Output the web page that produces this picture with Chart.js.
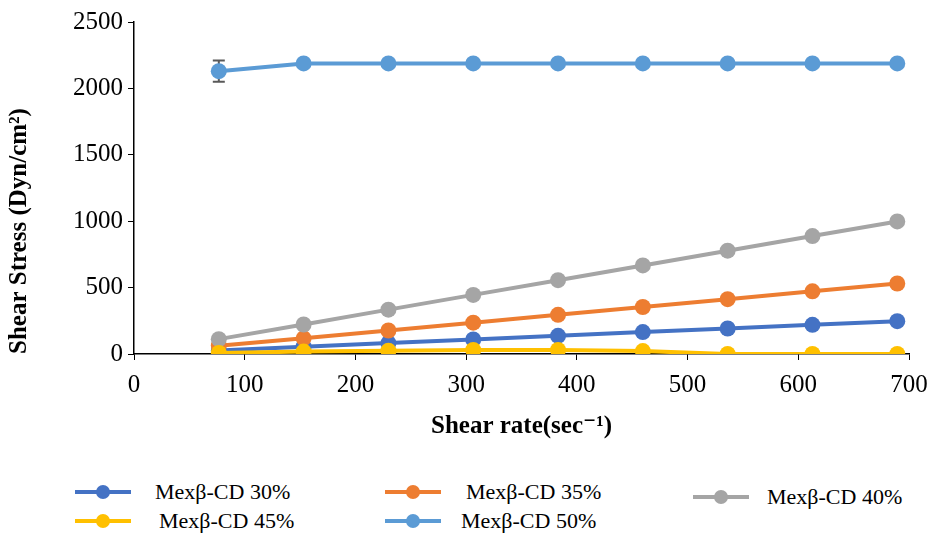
<!DOCTYPE html>
<html>
<head>
<meta charset="utf-8">
<script src="https://cdn.jsdelivr.net/npm/chart.js@4.4.1/dist/chart.umd.min.js"></script>
<style>
    html, body { margin: 0; padding: 0; background: #fff; }
    body { width: 933px; height: 537px; position: relative; overflow: hidden; font-family: 'Liberation Serif', 'DejaVu Serif', serif; }
    #chart { position: absolute; left: 0; top: 0; }
    .legend-item { position: absolute; display: flex; align-items: center; font-size: 22px; color: #000; white-space: nowrap; }
    .legend-swatch { position: relative; width: 56px; height: 14px; }
    .legend-swatch .bar { position: absolute; left: 0; right: 0; top: 5px; height: 4px; }
    .legend-swatch .dot { position: absolute; left: 21px; top: 0; width: 14px; height: 14px; border-radius: 50%; }
</style>
</head>
<body>
<canvas id="chart" width="933" height="446"></canvas>
<div id="legend"></div>
<script>
const shearRate = [76.6, 153.2, 229.8, 306.4, 383, 459.6, 536.2, 612.8, 689.4];
const seriesNames = ['Mexβ-CD 30%', 'Mexβ-CD 35%', 'Mexβ-CD 40%', 'Mexβ-CD 45%', 'Mexβ-CD 50%'];
const stress30 = [27, 55, 82, 110, 137, 165, 192, 220, 247];
const stress35 = [62, 118, 177, 236, 295, 354, 413, 472, 531];
const stress40 = [112, 222, 334, 445, 556, 667, 778, 888, 998];
const stress45 = [8, 18, 25, 30, 30, 22, 0, 0, 0];
const stress50 = [2130, 2188, 2188, 2188, 2188, 2188, 2188, 2188, 2188];
const error50 = [80, 0, 0, 0, 0, 0, 0, 0, 0];
const xTicks = [0, 100, 200, 300, 400, 500, 600, 700];
const yTicks = [0, 500, 1000, 1500, 2000, 2500];

const colors = ['#4472C4', '#ED7D31', '#A5A5A5', '#FFC000', '#5B9BD5'];
const allStress = [stress30, stress35, stress40, stress45, stress50];
const allErrors = [null, null, null, null, error50];

// legend slots: position of each entry and gap between swatch and text
const legendSlots = [
    { left: 75, top: 479, gap: 24 }, { left: 385, top: 479, gap: 25 }, { left: 693, top: 484, gap: 18 },
    { left: 75, top: 508, gap: 28 }, { left: 385, top: 508, gap: 20 },
];

const datasets = seriesNames.map((name, i) => ({
    label: name,
    data: shearRate.map((x, j) => ({ x, y: allStress[i][j] })),
    errors: allErrors[i],
    borderColor: colors[i],
    backgroundColor: colors[i],
    borderWidth: 4,
    pointRadius: 8,
    pointHoverRadius: 8,
    pointBorderWidth: 0,
    tension: 0,
    // later series sit on top
    order: seriesNames.length - i,
}));

// vertical error bars, drawn under the markers
const errorBars = {
    id: 'errorBars',
    beforeDatasetsDraw(chart) {
        const { ctx, scales } = chart;
        ctx.save();
        ctx.strokeStyle = '#595959';
        ctx.lineWidth = 2;
        chart.data.datasets.forEach((ds) => {
            if (!ds.errors) return;
            ds.data.forEach((p, j) => {
                const e = ds.errors[j];
                if (!e) return;
                const px = scales.x.getPixelForValue(p.x);
                const top = scales.y.getPixelForValue(p.y + e);
                const bot = scales.y.getPixelForValue(p.y - e);
                ctx.beginPath();
                ctx.moveTo(px, top); ctx.lineTo(px, bot);
                ctx.moveTo(px - 6, top); ctx.lineTo(px + 6, top);
                ctx.moveTo(px - 6, bot); ctx.lineTo(px + 6, bot);
                ctx.stroke();
            });
        });
        ctx.restore();
    },
};

const serif = "'Liberation Serif', 'DejaVu Serif', serif";
const tickFont = { family: serif, size: 25 };
const titleFont = { family: serif, size: 25, weight: 'bold' };

const chart = new Chart(document.getElementById('chart'), {
    type: 'line',
    data: { datasets },
    plugins: [errorBars],
    options: {
        responsive: false,
        animation: false,
        devicePixelRatio: 1,
        layout: { padding: { top: 22, right: 24, left: 0, bottom: 0 } },
        plugins: { legend: { display: false }, tooltip: { enabled: false } },
        scales: {
            x: {
                type: 'linear',
                min: 0,
                max: 700,
                afterBuildTicks: (scale) => { scale.ticks = xTicks.map((v) => ({ value: v })); },
                afterFit: (scale) => { scale.height = 92; scale.paddingRight = 18; },
                grid: { drawOnChartArea: false, drawTicks: true, tickLength: 6, color: '#000', lineWidth: 1 },
                border: { color: '#000', width: 1.5 },
                ticks: { color: '#000', font: tickFont, padding: 10, maxRotation: 0, callback: (v) => String(v) },
                title: { display: true, text: 'Shear rate(sec⁻¹)', color: '#000', font: titleFont, padding: { top: 4, bottom: 4 } },
            },
            y: {
                min: 0,
                max: 2500,
                afterBuildTicks: (scale) => { scale.ticks = yTicks.map((v) => ({ value: v })); },
                afterFit: (scale) => { scale.width = 134; },
                grid: { drawOnChartArea: false, drawTicks: true, tickLength: 6, color: '#000', lineWidth: 1 },
                border: { color: '#000', width: 1.5 },
                ticks: { color: '#000', font: tickFont, padding: 5, callback: (v) => String(v) },
                title: { display: true, align: 'start', text: 'Shear Stress (Dyn/cm²)', color: '#000', font: titleFont, padding: { top: 5, bottom: 4 } },
            },
        },
    },
});

// html legend laid out in two rows
const legend = document.getElementById('legend');
chart.data.datasets.forEach((ds, i) => {
    const slot = legendSlots[i];
    const item = document.createElement('div');
    item.className = 'legend-item';
    item.style.left = slot.left + 'px';
    item.style.top = slot.top + 'px';
    item.innerHTML = `<span class="legend-swatch" style="margin-right:${slot.gap}px"><span class="bar" style="background:${ds.borderColor}"></span><span class="dot" style="background:${ds.borderColor}"></span></span><span>${ds.label}</span>`;
    legend.appendChild(item);
});
</script>
</body>
</html>
